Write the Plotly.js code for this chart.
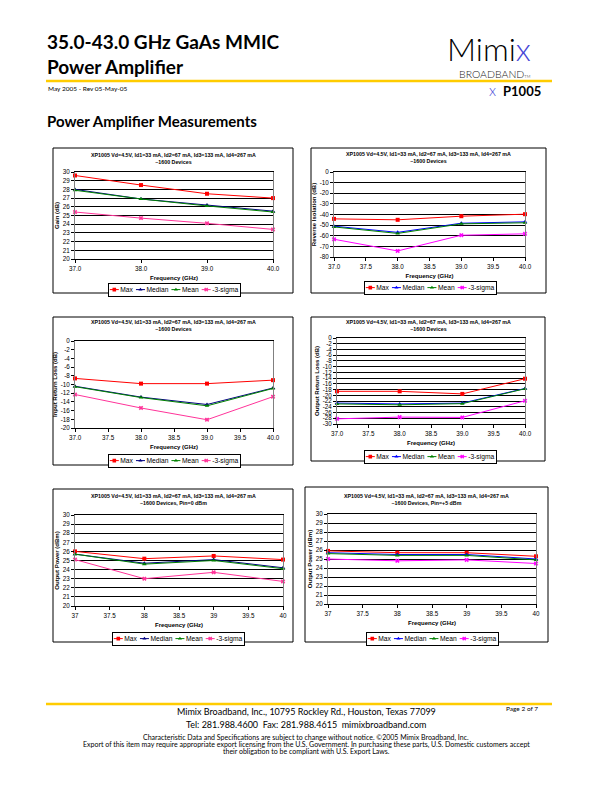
<!DOCTYPE html>
<html>
<head>
<meta charset="utf-8">
<script src="https://cdn.plot.ly/plotly-3.0.1.min.js"></script>
<style>
  html, body { margin: 0; padding: 0; background: #fff; }
  #page { width: 612px; height: 792px; }
</style>
</head>
<body>
<div id="page"></div>
<script>
// ---- data ----
var freq = [37, 38, 39, 40];
var seriesNames = ['Max', 'Median', 'Mean', '-3-sigma'];

// small signal gain (dB)
var gainMax    = [29.6, 28.5, 27.5, 27.0];
var gainMedian = [28.0, 26.9, 26.2, 25.5];
var gainMean   = [27.9, 26.9, 26.1, 25.4];
var gainSigma  = [25.4, 24.7, 24.1, 23.4];

// reverse isolation (dB)
var isoMax    = [-44.1, -45.0, -41.6, -39.7];
var isoMedian = [-51.0, -56.8, -48.2, -46.9];
var isoMean   = [-51.7, -57.8, -48.8, -47.8];
var isoSigma  = [-63.3, -74.3, -59.5, -58.2];

// input return loss (dB)
var irlMax    = [-8.6, -9.8, -9.8, -9.0];
var irlMedian = [-10.4, -12.9, -14.6, -10.8];
var irlMean   = [-10.5, -13.0, -14.9, -10.9];
var irlSigma  = [-12.3, -15.4, -18.1, -12.8];

// output return loss (dB)
var orlMax    = [-18.6, -18.6, -19.5, -14.2];
var orlMedian = [-22.7, -23.0, -22.7, -17.6];
var orlMean   = [-23.0, -23.3, -22.9, -17.7];
var orlSigma  = [-28.2, -27.6, -27.7, -21.9];

// output power, Pin = 0 dBm
var p0Max    = [26.0, 25.2, 25.5, 25.1];
var p0Median = [25.7, 24.7, 25.1, 24.2];
var p0Mean   = [25.7, 24.6, 25.0, 24.1];
var p0Sigma  = [25.1, 23.0, 23.7, 22.7];

// output power, Pin = +5 dBm
var p5Max    = [25.9, 25.7, 25.7, 25.3];
var p5Median = [25.7, 25.5, 25.5, 25.0];
var p5Mean   = [25.6, 25.4, 25.4, 24.9];
var p5Sigma  = [25.0, 24.8, 24.9, 24.5];

// tick values
var freqTicksWhole = [37, 38, 39, 40];
var freqTicksHalf  = [37, 37.5, 38, 38.5, 39, 39.5, 40];
var gainTicks  = [20, 21, 22, 23, 24, 25, 26, 27, 28, 29, 30];
var isoTicks   = [0, -10, -20, -30, -40, -50, -60, -70, -80];
var irlTicks   = [0, -2, -4, -6, -8, -10, -12, -14, -16, -18, -20];
var irlGrid    = [-8, -10, -12, -14, -16, -18, -20];   // upper gridlines are missing in the scan
var orlTicks   = [0, -2, -4, -6, -8, -10, -12, -14, -16, -18, -20, -22, -24, -26, -28, -30];
var powerTicks = [20, 21, 22, 23, 24, 25, 26, 27, 28, 29, 30];

var biasLine = 'XP1005 Vd=4.5V, Id1=33 mA, Id2=67 mA, Id3=133 mA, Id4=267 mA';

// ---- page geometry (px on the 612x792 page) ----
var W = 612, H = 792;
function fx(x) { return x / W; }
function fy(y) { return 1 - y / H; }

var CHART_FONT = 'Liberation Sans, Arial, sans-serif';
var PAGE_FONT = 'Lato, Open Sans, sans-serif';
var LEGEND_SCALE = 0.3;

var darkColors = ['#FF0000', '#000080', '#008000', '#FF3399'];
var brightColors = ['#FF0000', '#0000FF', '#008000', '#FF00FF'];
var symbols = ['square', 'triangle-up', 'triangle-up', 'x'];

var charts = [
  {series: [gainMax, gainMedian, gainMean, gainSigma], yticks: gainTicks, yrange: [20, 30],
   xticks: freqTicksWhole, xfmt: 1, ytitle: 'Gain (dB)', sub: '~1600 Devices', colors: darkColors,
   frame: [53, 148, 293, 293], plot: [75, 172, 273, 259], titleY: 158.5, legend: [174, 283]},
  {series: [isoMax, isoMedian, isoMean, isoSigma], yticks: isoTicks, yrange: [-80, 0],
   xticks: freqTicksHalf, xfmt: 1, ytitle: 'Reverse Isolation (dB)', sub: '~1600 Devices', colors: brightColors,
   frame: [311, 148, 546, 293], plot: [334, 172, 525, 257], titleY: 157.5, legend: [430, 281]},
  {series: [irlMax, irlMedian, irlMean, irlSigma], yticks: irlTicks, grid: irlGrid, yrange: [-20, 0],
   xticks: freqTicksHalf, xfmt: 1, ytitle: 'Input Return Loss (dB)', sub: '~1600 Devices', colors: darkColors,
   frame: [53, 317, 293, 465], plot: [75, 341, 273, 428], titleY: 325.5, legend: [174, 454]},
  {series: [orlMax, orlMedian, orlMean, orlSigma], yticks: orlTicks, yrange: [-30, 0],
   xticks: freqTicksHalf, xfmt: 1, ytitle: 'Output Return Loss (dB)', sub: '~1600 Devices', colors: brightColors,
   frame: [311, 317, 545, 461], plot: [337, 338, 525, 424], titleY: 325, legend: [430, 450]},
  {series: [p0Max, p0Median, p0Mean, p0Sigma], yticks: powerTicks, yrange: [20, 30],
   xticks: freqTicksHalf, xfmt: 0, ytitle: 'Output Power (dBm)', sub: '~1600 Devices, Pin=0 dBm', colors: darkColors,
   frame: [53, 489, 293, 642], plot: [75, 515, 283, 606], titleY: 500, legend: [178, 632]},
  {series: [p5Max, p5Median, p5Mean, p5Sigma], yticks: powerTicks, yrange: [20, 30],
   xticks: freqTicksHalf, xfmt: 0, ytitle: 'Output Power (dBm)', sub: '~1600 Devices, Pin=+5 dBm', colors: brightColors,
   frame: [305, 487, 548, 642], plot: [328, 514, 536, 604], titleY: 500, legend: [432, 632]}
];

var data = [];
var layout = {
  width: W, height: H,
  margin: {l: 0, r: 0, t: 0, b: 0, autoexpand: false},
  paper_bgcolor: '#fff', plot_bgcolor: '#fff',
  showlegend: true,
  font: {family: CHART_FONT, color: '#000'},
  annotations: [], shapes: []
};

var tickFont = {family: CHART_FONT, size: 6.3, color: '#000'};
var axTitleFont = {family: CHART_FONT, size: 6, color: '#000'};
var extraAxis = charts.length;

charts.forEach(function (c, i) {
  var sfx = i ? String(i + 1) : '';
  var legendId = 'legend' + sfx;

  c.series.forEach(function (ys, k) {
    data.push({
      x: freq, y: ys, name: seriesNames[k],
      xaxis: 'x' + sfx, yaxis: 'y' + sfx, legend: legendId,
      type: 'scatter', mode: 'lines+markers', cliponaxis: false,
      line: {color: c.colors[k], width: 1},
      marker: {color: c.colors[k], symbol: symbols[k], size: 4}
    });
  });

  var yDomain = [fy(c.plot[3]), fy(c.plot[1])];
  layout['xaxis' + sfx] = {
    domain: [fx(c.plot[0]), fx(c.plot[2])], anchor: 'y' + sfx,
    range: [37, 40], tickvals: c.xticks,
    ticktext: c.xticks.map(function (v) { return c.xfmt ? v.toFixed(1) : String(v); }),
    ticks: 'outside', ticklen: 3, tickcolor: '#000', tickfont: tickFont,
    showgrid: false, zeroline: false, showline: true, mirror: true, linecolor: '#000', linewidth: 1,
    automargin: false, fixedrange: true,
    title: {text: '<b>Frequency (GHz)</b>', font: axTitleFont, standoff: 5}
  };
  layout['yaxis' + sfx] = {
    domain: yDomain, anchor: 'x' + sfx,
    range: c.yrange, tickvals: c.yticks, ticktext: c.yticks.map(String),
    ticks: 'outside', ticklen: 3, tickcolor: '#000', tickfont: tickFont,
    showgrid: !c.grid, gridcolor: '#000', gridwidth: 1,
    zeroline: false, showline: true, mirror: true, linecolor: '#808080', linewidth: 1,
    automargin: false, fixedrange: true,
    title: {text: '<b>' + c.ytitle + '</b>', font: axTitleFont, standoff: 2}
  };
  if (c.grid) {
    // separate overlay axis carrying only the gridlines that show in the scan
    extraAxis += 1;
    layout['yaxis' + extraAxis] = {
      domain: yDomain, anchor: 'x' + sfx, overlaying: 'y' + sfx,
      range: c.yrange, tickvals: c.grid, showticklabels: false, ticks: '',
      showgrid: true, gridcolor: '#000', gridwidth: 1,
      zeroline: false, showline: false, fixedrange: true
    };
  }
  layout[legendId] = {
    orientation: 'h', x: fx(c.legend[0]), y: fy(c.legend[1]), xanchor: 'center', yanchor: 'top',
    bgcolor: '#fff', bordercolor: '#000', borderwidth: 1,
    font: {family: CHART_FONT, size: 6.7 / LEGEND_SCALE, color: '#000'},
    itemsizing: 'constant', itemwidth: 30
  };

  // chart frame
  layout.shapes.push({type: 'rect', xref: 'paper', yref: 'paper',
    x0: fx(c.frame[0]), x1: fx(c.frame[2]), y0: fy(c.frame[3]), y1: fy(c.frame[1]),
    line: {color: '#000', width: 1}, fillcolor: 'rgba(0,0,0,0)', layer: 'below'});
  // chart title
  layout.annotations.push({xref: 'paper', yref: 'paper',
    x: fx((c.frame[0] + c.frame[2]) / 2), y: fy(c.titleY), xanchor: 'center', yanchor: 'middle',
    showarrow: false, align: 'center',
    text: '<b>' + biasLine + '</b><br><b>' + c.sub + '</b>',
    font: {family: CHART_FONT, size: 5.3, color: '#000'}});
});

// ---- page header / footer ----
function pageText(text, x, y, size, opts) {
  opts = opts || {};
  layout.annotations.push({xref: 'paper', yref: 'paper', x: fx(x), y: fy(y),
    xanchor: opts.anchor || 'left', yanchor: 'middle', showarrow: false, align: opts.align || 'left',
    text: text, font: {family: opts.family || PAGE_FONT, size: size, color: opts.color || '#000',
      weight: opts.weight || 400}});
}

pageText('<b>35.0-43.0 GHz GaAs MMIC<br>Power Amplifier</b>', 45, 53.5, 19);
pageText('May 2005 - Rev 05-May-05', 46, 88, 6.5);
pageText('<b>Power Amplifier Measurements</b>', 45, 121, 15);

pageText('Mimi<span style="color:#4646d6">x</span>', 489, 48.5, 32, {anchor: 'center', weight: 300});
pageText('BROADBAND<span style="font-size:4px">TM</span>', 495, 74, 10.5, {anchor: 'center', color: '#222', weight: 300});
pageText('<span style="color:#4646d6">x</span>', 492, 90, 15, {anchor: 'center', weight: 300});
pageText('<b>P1005</b>', 522, 91, 13, {anchor: 'center'});

pageText('Page 2 of 7', 522, 708, 6.5, {anchor: 'center'});
pageText('Mimix Broadband, Inc., 10795 Rockley Rd., Houston, Texas 77099', 306, 711, 9, {anchor: 'center'});
pageText('Tel: 281.988.4600  Fax: 281.988.4615  mimixbroadband.com', 306, 724, 9, {anchor: 'center'});
pageText('Characteristic Data and Specifications are subject to change without notice. \u00a92005 Mimix Broadband, Inc.', 306, 737, 7, {anchor: 'center'});
pageText('Export of this item may require appropriate export licensing from the U.S. Government. In purchasing these parts, U.S. Domestic customers accept', 306, 744, 7, {anchor: 'center'});
pageText('their obligation to be compliant with U.S. Export Laws.', 306, 751, 7, {anchor: 'center'});

// yellow rules
[81, 704].forEach(function (y) {
  layout.shapes.push({type: 'line', xref: 'paper', yref: 'paper',
    x0: fx(46), x1: fx(552), y0: fy(y), y1: fy(y), line: {color: '#FFCC00', width: 2.5}});
});

Plotly.newPlot('page', data, layout, {staticPlot: true}).then(function (gd) {
  // shrink the legends to the small Excel-style boxes
  charts.forEach(function (c, i) {
    var g = gd.querySelector('.infolayer g.legend' + (i ? i + 1 : ''));
    if (!g) return;
    var bg = g.querySelector('rect.bg');
    var w = parseFloat(bg.getAttribute('width'));
    g.setAttribute('transform', 'translate(' + (c.legend[0] - w * LEGEND_SCALE / 2) + ',' +
      c.legend[1] + ') scale(' + LEGEND_SCALE + ')');
    g.querySelectorAll('path, rect.bg').forEach(function (el) {
      el.setAttribute('vector-effect', 'non-scaling-stroke');
    });
    g.querySelectorAll('.legendlines path').forEach(function (p) { p.style.strokeWidth = '1px'; });
  });
});
</script>
</body>
</html>
